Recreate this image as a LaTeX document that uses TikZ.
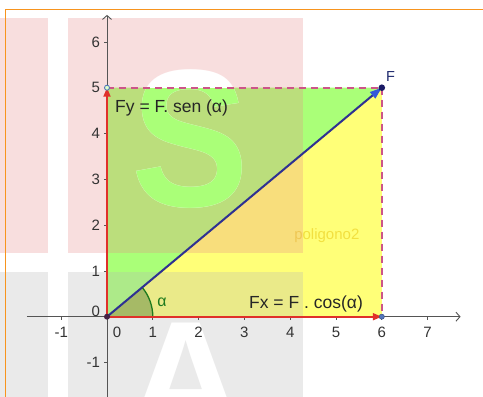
\documentclass[tikz,border=0pt]{standalone}
\usepackage{fontspec}
\setmainfont{Liberation Sans}
\usetikzlibrary{arrows.meta}
\definecolor{wmpink}{RGB}{232,137,137}
\definecolor{wmgray}{RGB}{183,183,183}
\definecolor{frameorange}{HTML}{F7941E}
\definecolor{polygreen}{HTML}{AAFF78}
\definecolor{polyyellow}{HTML}{FFFF78}
\definecolor{sectorfill}{HTML}{A0BC48}
\definecolor{polylabel}{HTML}{F2E040}
\definecolor{axisgray}{HTML}{555555}
\definecolor{ticklabel}{HTML}{333333}
\definecolor{vecred}{HTML}{E0302A}
\definecolor{vecblue}{HTML}{2E3192}
\definecolor{tipblue}{HTML}{3558D8}
\definecolor{dashpink}{HTML}{CC5588}
\definecolor{anglegreen}{HTML}{1E7A1E}
\definecolor{pointnavy}{HTML}{1A1A66}
\definecolor{pointblue}{HTML}{5577BB}
\definecolor{pointorigin}{HTML}{442244}
\definecolor{labelnavy}{HTML}{1F2A6E}
\begin{document}
\begin{tikzpicture}[x=1pt,y=-1pt,
  wmletter/.style={font=\fontsize{196}{196}\selectfont\bfseries,inner sep=0pt,anchor=base},
  wmletterA/.style={font=\fontsize{165}{165}\selectfont\bfseries,inner sep=0pt,anchor=base},
  overlay pink/.style={fill=wmpink,fill opacity=0.28},
  overlay gray/.style={fill=wmgray,fill opacity=0.28},
  axisline/.style={draw=axisgray,line width=0.9pt,-{Straight Barb[length=4pt,width=9pt]}},
  tickmark/.style={draw=axisgray,line width=0.8pt},
  ticklbl/.style={text=ticklabel,font=\fontsize{15}{15}\selectfont,inner sep=0pt},
  redvec/.style={draw=vecred,line width=1.8pt,-{Triangle[length=9pt,width=7pt]}},
  bluevec/.style={draw=vecblue,line width=2pt,-{Triangle[length=12pt,width=8pt,color=tipblue]}},
  dashline/.style={draw=dashpink,line width=1.6pt,dash pattern=on 7pt off 5pt},
  formula/.style={text=black!85,font=\fontsize{17.5}{17.5}\selectfont,inner sep=0pt,anchor=base west},
]
\useasboundingbox (0,0) rectangle (483,397);
\fill[white] (0,0) rectangle (483,397);
% pixel anchors for the watermark
\coordinate (bbA) at (0,0);
\coordinate (bbB) at (483,397);
\coordinate (k1a) at (0,18);   \coordinate (k1b) at (48,253);
\coordinate (k2a) at (68,18);  \coordinate (k2b) at (303,253);
\coordinate (k3a) at (0,272);  \coordinate (k3b) at (48,397);
\coordinate (k4a) at (68,272); \coordinate (k4b) at (303,397);
\coordinate (sPos) at (190,206.6);
\coordinate (aPos) at (186,436);
% axis system
\begin{scope}[shift={(107,316.7)},x=45.8pt,y=45.8pt]
  \coordinate (O) at (0,0);
  \coordinate (P5) at (0,5);
  \coordinate (P6) at (6,0);
  \coordinate (F) at (6,5);
  \coordinate (U1) at (1,0);
  % polygons
  \fill[polygreen] (O) -- (P5) -- (F) -- cycle;
  \fill[polyyellow] (O) -- (P6) -- (F) -- cycle;
  \fill[sectorfill] (O) -- (U1) arc[start angle=0,end angle=39.81,radius=1] -- cycle;
  \node[text=polylabel,font=\fontsize{15}{15}\selectfont,inner sep=0pt] (poly) at (4.8,1.78) {poligono2};
  % watermark overlay
  \fill[overlay pink] (k1a) rectangle (k1b);
  \fill[overlay pink] (k2a) rectangle (k2b);
  \fill[overlay gray] (k3a) rectangle (k3b);
  \fill[overlay gray] (k4a) rectangle (k4b);
  \begin{scope}
    \clip (bbA) rectangle (bbB);
    \node[wmletter,text=white,xscale=0.9] (wmS) at (sPos) {S};
    \node[wmletterA,text=white] (wmA) at (aPos) {A};
  \end{scope}
  \begin{scope}
    \clip (O) -- (P5) -- (F) -- cycle;
    \node[wmletter,text=polygreen,xscale=0.9] (wmSg) at (sPos) {S};
  \end{scope}
  \begin{scope}
    \clip (O) -- (P6) -- (F) -- cycle;
    \node[wmletter,text=polyyellow,xscale=0.9] (wmSy) at (sPos) {S};
  \end{scope}
  \draw[anglegreen,line width=1.3pt] (U1) arc[start angle=0,end angle=39.81,radius=1];
  % axes
  \coordinate (xl) at (-1.75,0);
  \coordinate (xr) at (7.72,0);
  \coordinate (yb) at (0,-1.8);
  \coordinate (yt) at (0,6.59);
  \draw[axisline] (xl) -- (xr);
  \draw[axisline] (yb) -- (yt);
  \foreach \i in {-1,1,2,3,4,5,6,7} {
    \draw[tickmark] (\i,0) -- ++(0,-3pt);
    \node[ticklbl] (xt\i) at (\i,-0.35) {\i};
  }
  \foreach \i in {-1,1,2,3,4,5,6} {
    \draw[tickmark] (0,\i) -- ++(-3pt,0);
    \node[ticklbl,anchor=east] (yt\i) at (-0.15,\i) {\i};
  }
  \node[ticklbl] (xt0) at (0.22,-0.35) {0};
  \node[ticklbl,anchor=east] (yt0) at (-0.15,0.11) {0};
  % dashed projections
  \draw[dashline] (P5) -- (F);
  \draw[dashline] (F) -- (P6);
  % vectors
  \draw[redvec] (O) -- (P5);
  \draw[redvec] (O) -- (P6);
  \draw[bluevec] (O) -- (F);
  % points
  \fill[pointnavy] (F) circle[radius=3.3pt];
  \filldraw[fill=pointblue,draw=pointblue!70!black,line width=0.5pt] (P6) circle[radius=2.6pt];
  \draw[pointblue,line width=0.9pt,fill=white!60!polygreen] (P5) circle[radius=2.5pt];
  \fill[pointorigin] (O) circle[radius=3pt];
  % labels
  \node[formula] (fy) at (0.175,4.46) {Fy = F. sen (α)};
  \node[formula] (fx) at (3.10,0.17) {Fx = F . cos(α)};
  \node[text=labelnavy,font=\fontsize{14.5}{14.5}\selectfont,inner sep=0pt,anchor=base west] (flbl) at (6.09,5.126) {F};
  \node[text=anglegreen,font=\fontsize{16}{16}\selectfont,inner sep=0pt] (alpha) at (1.2,0.32) {α};
\end{scope}
% orange frame
\coordinate (fa) at (5,9.3);
\coordinate (fb) at (483,9.3);
\coordinate (fc) at (5.7,9.3);
\coordinate (fd) at (5.7,397);
\draw[frameorange,line width=1.5pt] (fa) -- (fb);
\draw[frameorange,line width=1.5pt] (fc) -- (fd);
\end{tikzpicture}
\end{document}
